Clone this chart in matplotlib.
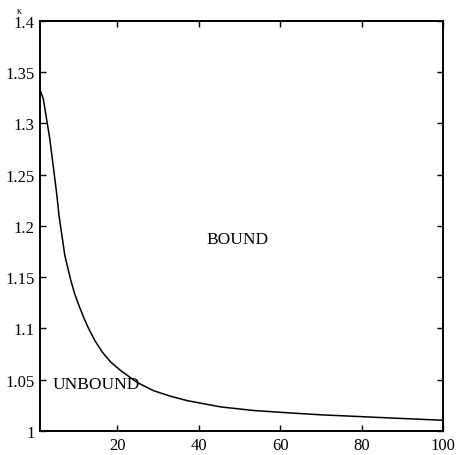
import matplotlib
matplotlib.use("Agg")
import matplotlib.pyplot as plt

# curve
x_vals = [1, 1.8, 3.4, 5.05, 5.7, 7.1, 8.5, 9.5, 10.6, 11.8, 13, 14.5, 16.3,
          18.3, 20.8, 24.8, 28.9, 33, 37.2, 45.4, 53.5, 61.8, 70, 80, 90, 100]
y_vals = [1.333, 1.324, 1.285, 1.233, 1.209, 1.171, 1.148, 1.134, 1.122, 1.110,
          1.0995, 1.088, 1.077, 1.0675, 1.059, 1.0475, 1.0393, 1.034, 1.0296,
          1.0235, 1.0200, 1.0178, 1.0158, 1.0140, 1.0122, 1.0105]

x_ticks = [20, 40, 60, 80, 100]
y_ticks = [1, 1.05, 1.1, 1.15, 1.2, 1.25, 1.3, 1.35, 1.4]
y_labels = ["1", "1.05", "1.1", "1.15", "1.2", "1.25", "1.3", "1.35", "1.4"]

plt.rcParams['font.family'] = ['Liberation Serif', 'DejaVu Serif']

fig = plt.figure(figsize=(4.6, 4.56), dpi=100)
ax = fig.add_axes([0.087, 0.0526, 0.876, 0.8994])

ax.plot(x_vals, y_vals, color='black', linewidth=1.1)

ax.set_xlim(1, 100)
ax.set_ylim(1, 1.4)
ax.set_xticks(x_ticks)
ax.set_xticklabels([str(t) for t in x_ticks])
ax.set_yticks(y_ticks)
ax.set_yticklabels(y_labels)
ax.tick_params(direction='in', length=4, width=1, labelsize=12,
               top=True, right=True, pad=4)
for s in ax.spines.values():
    s.set_linewidth(1.4)

ax.text(49.6, 1.187, "BOUND", ha='center', va='center', fontsize=12.5)
ax.text(4.2, 1.046, "UNBOUND", ha='left', va='center', fontsize=12.5)
fig.text(0.043, 0.985, "\u03ba", ha='center', va='top', fontsize=7)

fig.savefig("out.png", dpi=100)
